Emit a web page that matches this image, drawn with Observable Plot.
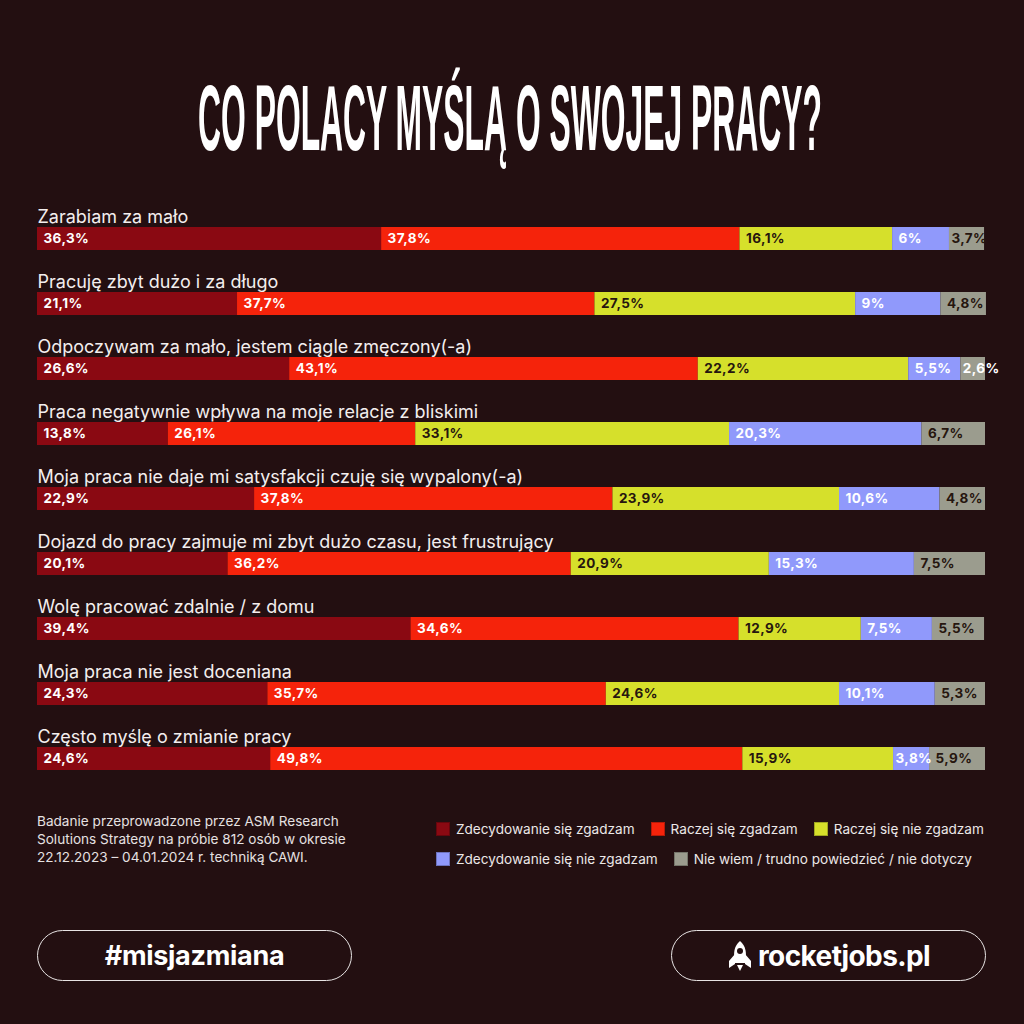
<!DOCTYPE html>
<html><head><meta charset="utf-8">
<script src="https://cdn.jsdelivr.net/npm/d3@7"></script>
<script src="https://cdn.jsdelivr.net/npm/@observablehq/plot@0.6"></script>
<style>
html,body{margin:0;padding:0;background:#230f11;}
#page{position:relative;width:1024px;height:1024px;background:#230f11;overflow:hidden;font-family:Inter,"Noto Sans",sans-serif;color:#fff;}
#title{position:absolute;left:0;top:0;}
#chart{position:absolute;left:0;top:0;}
#chart .vlabel text{letter-spacing:0.4px;}
#note{position:absolute;left:37px;top:812px;font-size:13.6px;line-height:18px;color:#e6e1e1;}
#legend{position:absolute;left:436px;top:814px;font-size:13.6px;color:#ece8e8;}
.lrow{display:flex;gap:16px;height:30px;align-items:center;}
.litem{display:flex;align-items:center;gap:6px;white-space:nowrap;}
.sw{width:14px;height:14px;box-sizing:border-box;border:1px solid rgba(0,0,0,0.25);}
.pill{position:absolute;top:930px;width:315px;height:51px;box-sizing:border-box;border:1.5px solid #e8e4e4;border-radius:26px;display:flex;align-items:center;justify-content:center;font-weight:700;color:#fff;}
</style></head><body><div id="page">
<svg id="title" width="1024" height="180"></svg>
<div id="chart"></div>
<div id="note"></div>
<div id="legend"></div>
<div class="pill" style="left:37px;font-size:27px;letter-spacing:-0.3px;">#misjazmiana</div>
<div class="pill" style="left:671px;font-size:28px;letter-spacing:-0.6px;gap:5px;">
<svg width="26" height="32" viewBox="0 0 26 32"><path d="M13 1 C19 6 20 13 18 23 L8 23 C6 13 7 6 13 1Z" fill="#fff"/><circle cx="13" cy="11" r="3" fill="#230f11"/><path d="M8 14 L2 21 L2 28 L8 24Z M18 14 L24 21 L24 28 L18 24Z" fill="#fff"/><path d="M10 25 L16 25 L13 31Z" fill="#fff"/></svg><span>rocketjobs.pl</span></div>
</div>
<script>
const titleText = "CO POLACY MYŚLĄ O SWOJEJ PRACY?";
const categories = [
  "Zarabiam za mało",
  "Pracuję zbyt dużo i za długo",
  "Odpoczywam za mało, jestem ciągle zmęczony(-a)",
  "Praca negatywnie wpływa na moje relacje z bliskimi",
  "Moja praca nie daje mi satysfakcji czuję się wypalony(-a)",
  "Dojazd do pracy zajmuje mi zbyt dużo czasu, jest frustrujący",
  "Wolę pracować zdalnie / z domu",
  "Moja praca nie jest doceniana",
  "Często myślę o zmianie pracy"
];
const answers = [
  "Zdecydowanie się zgadzam",
  "Raczej się zgadzam",
  "Raczej się nie zgadzam",
  "Zdecydowanie się nie zgadzam",
  "Nie wiem / trudno powiedzieć / nie dotyczy"
];
const colors = ["#8a0912", "#f5230b", "#d6e02b", "#9099fb", "#9b9c8e"];
const strongAgree    = [36.3, 21.1, 26.6, 13.8, 22.9, 20.1, 39.4, 24.3, 24.6];
const ratherAgree    = [37.8, 37.7, 43.1, 26.1, 37.8, 36.2, 34.6, 35.7, 49.8];
const ratherDisagree = [16.1, 27.5, 22.2, 33.1, 23.9, 20.9, 12.9, 24.6, 15.9];
const strongDisagree = [6.0, 9.0, 5.5, 20.3, 10.6, 15.3, 7.5, 10.1, 3.8];
const dontKnow       = [3.7, 4.8, 2.6, 6.7, 4.8, 7.5, 5.5, 5.3, 5.9];
const noteLines = [
  "Badanie przeprowadzone przez ASM Research",
  "Solutions Strategy na próbie 812 osób w okresie",
  "22.12.2023 – 04.01.2024 r. techniką CAWI."
];

const series = [strongAgree, ratherAgree, ratherDisagree, strongDisagree, dontKnow];
const rows = [];
categories.forEach((c, i) => series.forEach((s, j) => rows.push({category: c, answer: answers[j], idx: j, value: s[i]})));
const fmt = v => (Number.isInteger(v) ? String(v) : v.toFixed(1).replace(".", ",")) + "%";
const darkText = d => d.idx === 2 || (d.idx === 4 && d.value >= 3);
const narrow = d => d.value < 4.5 && d.value >= 3;

// Title: condensed by horizontal scaling to the reference width
const ts = d3.select("#title");
const tg = ts.append("g");
const tt = tg.append("text").attr("x", 0).attr("y", 0).attr("text-anchor", "middle")
  .attr("font-family", "'Liberation Sans','Arial',sans-serif")
  .attr("font-weight", 700).attr("font-size", 93).attr("fill", "#fff")
  .text(titleText);
const tw = tt.node().getComputedTextLength();
tg.attr("transform", `translate(510,150) scale(${624 / tw},1)`);

const labelMark = (test, dx, fill) => Plot.text(rows, Plot.stackX1({
  x: "value", y: "category", order: null,
  text: d => test(d) ? fmt(d.value) : "",
  textAnchor: "start", dx, dy: 4, fontSize: 13.5, fontWeight: 700, fill, className: "vlabel"
}));

const chart = Plot.plot({
  width: 1024, height: 790,
  marginTop: 200, marginBottom: 2, marginLeft: 37, marginRight: 39,
  x: {domain: [0, 100], axis: null},
  y: {domain: categories, axis: null, padding: 0},
  color: {domain: answers, range: colors},
  style: {background: "transparent", fontFamily: "Inter, 'Noto Sans', sans-serif", overflow: "visible"},
  marks: [
    Plot.barX(rows, Plot.stackX({x: "value", y: "category", fill: "answer", order: null, insetTop: 25, insetBottom: 17})),
    labelMark(d => !darkText(d) && !narrow(d) && d.value >= 3, 6, "#ffffff"),
    labelMark(d => !darkText(d) && (narrow(d) || d.value < 3), 2, "#ffffff"),
    labelMark(d => darkText(d) && !narrow(d), 6, "#26160f"),
    labelMark(d => darkText(d) && narrow(d), 2, "#26160f"),
    Plot.text(categories, {x: () => 0, y: d => d, text: d => d, textAnchor: "start", lineAnchor: "bottom",
      dy: -12, fontSize: 18, fill: "#f3eeee"})
  ]
});
document.getElementById("chart").appendChild(chart);

// Note
d3.select("#note").selectAll("div").data(noteLines).join("div").text(d => d);

// Legend
const lg = d3.select("#legend");
[[0, 1, 2], [3, 4]].forEach(r => {
  const row = lg.append("div").attr("class", "lrow");
  r.forEach(j => {
    const it = row.append("div").attr("class", "litem");
    it.append("div").attr("class", "sw").style("background", colors[j]);
    it.append("span").text(answers[j]);
  });
});
</script>
</body></html>
